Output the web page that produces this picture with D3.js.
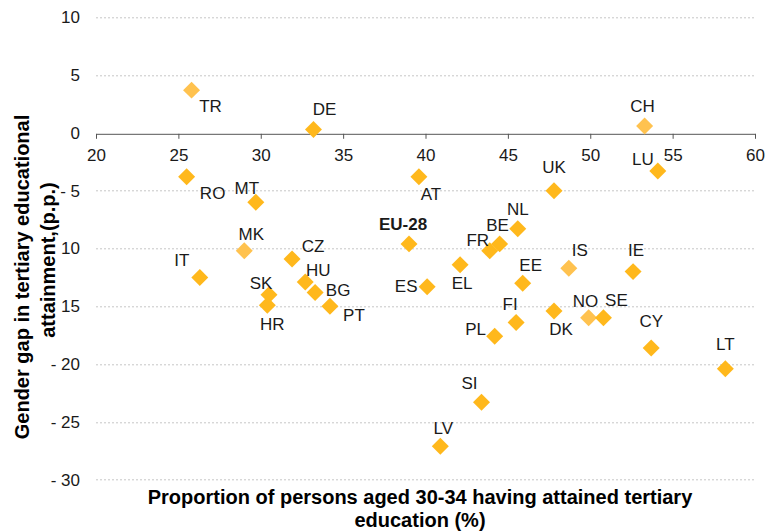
<!DOCTYPE html>
<html>
<head>
<meta charset="utf-8">
<script src="https://cdn.jsdelivr.net/npm/d3@7/dist/d3.min.js"></script>
<style>
    body { margin: 0; background: #fff; }
    svg { display: block; font-family: 'Liberation Sans', Arial, sans-serif; }
    .gridLine { stroke: #c6c6c6; stroke-width: 1; stroke-dasharray: 2,2; }
    .tickLabel { font-size: 17px; fill: #1a1a1a; }
    .pointLabel { font-size: 17px; fill: #1a1a1a; }
    .axisTitle { font-size: 20px; font-weight: bold; fill: #000; }
</style>
</head>
<body>
<svg id="chart" width="769" height="531"></svg>
<script>
// values
const countries = ['TR', 'DE', 'CH', 'RO', 'MT', 'AT', 'UK', 'LU', 'NL', 'BE', 'FR', 'EU-28',
    'MK', 'CZ', 'IT', 'HU', 'BG', 'SK', 'HR', 'PT', 'ES', 'EL', 'EE', 'IS', 'IE',
    'FI', 'DK', 'NO', 'SE', 'PL', 'CY', 'LT', 'SI', 'LV'];
const tertiaryShare = [25.8, 33.2, 53.3, 25.5, 29.7, 39.6, 47.8, 54.1, 45.6, 44.5, 43.9, 39.0,
    29.0, 31.9, 26.3, 32.7, 33.3, 30.5, 30.4, 34.2, 40.1, 42.1, 45.9, 48.7, 52.6,
    45.5, 47.8, 49.9, 50.8, 44.2, 53.7, 58.2, 43.4, 40.9];
const genderGap = [3.7, 0.3, 0.6, -3.8, -6.0, -3.8, -5.0, -3.3, -8.3, -9.6, -10.2, -9.6,
    -10.2, -10.9, -12.5, -12.9, -13.8, -14.0, -14.9, -15.0, -13.3, -11.4, -13.0, -11.7, -12.0,
    -16.4, -15.4, -16.0, -16.0, -17.6, -18.6, -20.4, -23.3, -27.1];
const nonEU = ['TR', 'MK', 'CH', 'IS', 'NO'];
const xTicks = [20, 25, 30, 35, 40, 45, 50, 55, 60];
const yTicks = [10, 5, 0, -5, -10, -15, -20, -25, -30];
const xTitle = ['Proportion of persons aged 30-34 having attained tertiary', 'education (%)'];
const yTitle = ['Gender gap in tertiary educational', 'attainment,(p.p.)'];

// label placement around each diamond (px, centre of text)
const labelOffsets = {
    'TR': [19, 16], 'DE': [11, -20], 'CH': [-2, -20], 'RO': [26, 16], 'MT': [-9, -14],
    'AT': [12, 17], 'UK': [0, -24], 'LU': [-15, -12], 'NL': [0, -20], 'BE': [-2, -19],
    'FR': [-12, -11], 'EU-28': [-6, -20], 'MK': [7, -17], 'CZ': [21, -13], 'IT': [-18, -17],
    'HU': [13, -12], 'BG': [23, -2], 'SK': [-8, -12], 'HR': [5, 19], 'PT': [24, 9],
    'ES': [-21, -1], 'EL': [2, 18], 'EE': [8, -18], 'IS': [11, -18], 'IE': [3, -22],
    'FI': [-6, -18], 'DK': [7, 18], 'NO': [-3, -17], 'SE': [13, -18], 'PL': [-19, -7],
    'CY': [0, -27], 'LT': [0, -25], 'SI': [-12, -19], 'LV': [3, -18]
};

let gapScatter = function(){

    this._data = null;
    this._selection = null;
    this._size = null;
    this._margin = null;
    let canvas = null;

    this.data = function(){
        if (arguments.length > 0){
            this._data = arguments[0];
            return this;
        } else return this._data;
    }

    this.selection = function(){
        if (arguments.length > 0){
            this._selection = arguments[0];
            return this;
        } else return this._selection;
    }

    this.size = function(){
        if (arguments.length > 0){
            this._size = arguments[0];
            return this;
        } else return this._size;
    }

    this.margin = function(){
        if (arguments.length > 0){
            this._margin = arguments[0];
            return this;
        } else return this._margin;
    }

    this.draw = function(){
        let w = this._size.w - this._margin.l - this._margin.r;
        let h = this._size.h - this._margin.t - this._margin.b;

        canvas = this._selection.append('g')
            .attr('transform', `translate(${this._margin.l}, ${this._margin.t})`);

        let xScale = d3.scaleLinear().domain([20, 60]).range([0, w]);
        let yScale = d3.scaleLinear().domain([-30, 10]).range([h, 0]);

        // dashed gridlines, the zero line is the x axis
        canvas.selectAll('.gridLine')
            .data(yTicks.filter(d => d !== 0))
            .join('line')
            .classed('gridLine', true)
            .attr('x1', 0)
            .attr('x2', w)
            .attr('y1', d => Math.round(yScale(d)) + 0.5)
            .attr('y2', d => Math.round(yScale(d)) + 0.5);

        let axisX = d3.axisBottom(xScale)
            .tickValues(xTicks)
            .tickSize(5)
            .tickSizeOuter(0)
            .tickPadding(10);

        let axisG = canvas.append('g')
            .attr('transform', `translate(0, ${Math.round(yScale(0)) + 0.5})`)
            .call(axisX);
        axisG.select('.domain').attr('stroke', '#555');
        axisG.selectAll('.tick line').attr('stroke', '#555');
        axisG.selectAll('.tick text')
            .attr('class', 'tickLabel')
            .attr('font-size', null)
            .attr('font-family', null);

        // y labels as in the source: "- 5" style
        canvas.selectAll('.yLabel')
            .data(yTicks)
            .join('text')
            .attr('class', 'tickLabel yLabel')
            .attr('x', -16)
            .attr('y', d => yScale(d))
            .attr('dy', '0.35em')
            .attr('text-anchor', 'end')
            .text(d => d < 0 ? '- ' + Math.abs(d) : d);

        canvas.selectAll('.point')
            .data(this._data)
            .join('rect')
            .classed('point', true)
            .attr('x', -6)
            .attr('y', -6)
            .attr('width', 12)
            .attr('height', 12)
            .attr('fill', d => nonEU.includes(d.name) ? '#ffc24f' : '#ffb81c')
            .attr('transform', d => `translate(${xScale(d.x)}, ${yScale(d.y)}) rotate(45)`);

        canvas.selectAll('.pointLabel')
            .data(this._data)
            .join('text')
            .classed('pointLabel', true)
            .attr('x', d => xScale(d.x) + labelOffsets[d.name][0])
            .attr('y', d => yScale(d.y) + labelOffsets[d.name][1])
            .attr('dy', '0.35em')
            .attr('text-anchor', 'middle')
            .style('font-weight', d => d.name === 'EU-28' ? 'bold' : 'normal')
            .text(d => d.name);

        this.drawTitles();
    }

    this.drawTitles = function(){
        let svg = this._selection;

        svg.selectAll('.xTitle')
            .data(xTitle)
            .join('text')
            .attr('class', 'axisTitle xTitle')
            .attr('x', 420)
            .attr('y', (d, i) => 504 + i * 23)
            .attr('text-anchor', 'middle')
            .text(d => d);

        // second line sits on a white box, hiding the minus of -10 and -15 like the source
        let pos = [[29, 277], [55, 260]];
        yTitle.forEach((t, i) => {
            let g = svg.append('g')
                .attr('transform', `translate(${pos[i][0]}, ${pos[i][1]}) rotate(-90)`);
            let txt = g.append('text')
                .attr('class', 'axisTitle')
                .attr('text-anchor', 'middle')
                .text(t);
            if (i === 1){
                let bb = txt.node().getBBox();
                g.insert('rect', 'text')
                    .attr('x', bb.x - 2)
                    .attr('y', bb.y)
                    .attr('width', bb.width + 4)
                    .attr('height', bb.height)
                    .attr('fill', '#fff');
            }
        });
    }
}

let points = countries.map((c, i) => ({name: c, x: tertiaryShare[i], y: genderGap[i]}));

new gapScatter()
    .data(points)
    .selection(d3.select('#chart'))
    .size({w: 769, h: 531})
    .margin({l: 96, r: 14, t: 17.3, b: 51.3})
    .draw();
</script>
</body>
</html>
